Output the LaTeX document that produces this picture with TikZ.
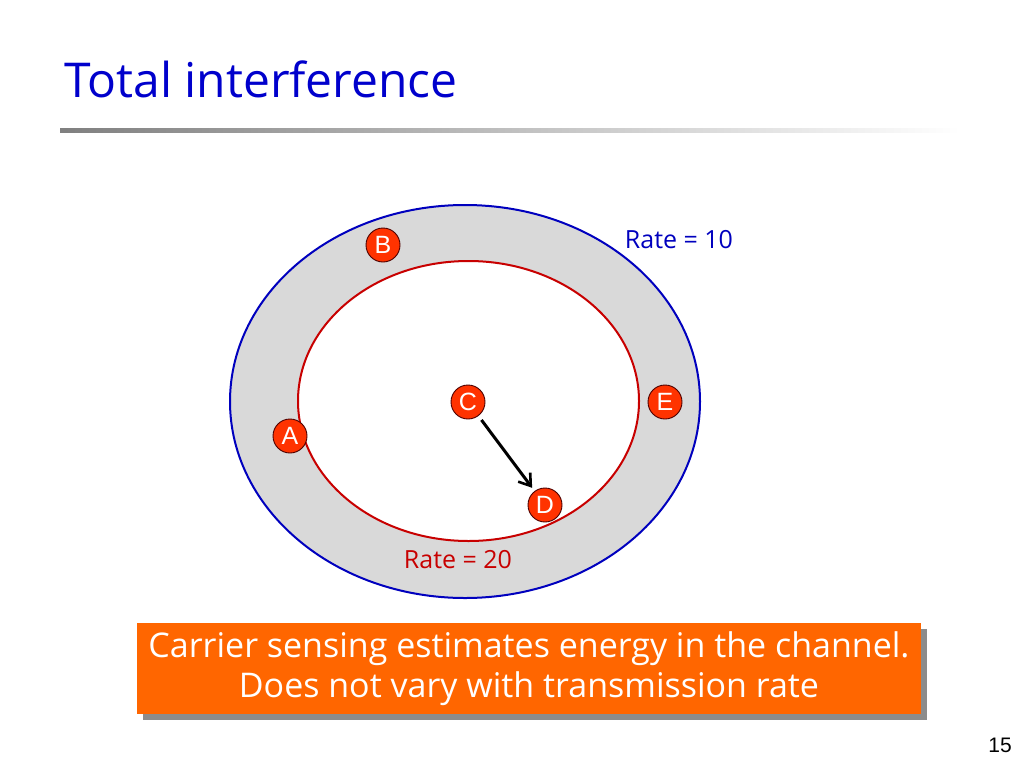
\documentclass[tikz,border=0pt]{standalone}
\usepackage{fontspec}
\setmainfont{Open Sans}
\newfontfamily\arialf{Liberation Sans}
\usetikzlibrary{arrows.meta,shadows}
\definecolor{titleblue}{RGB}{0,0,204}
\definecolor{ringgray}{RGB}{217,217,217}
\definecolor{outerblue}{RGB}{0,0,190}
\definecolor{innerred}{RGB}{200,0,0}
\definecolor{nodered}{RGB}{255,51,0}
\definecolor{boxorange}{RGB}{255,102,0}
\tikzset{
  station/.style={circle,draw=black!70!red,line width=0.9pt,fill=nodered,text=white,
    minimum size=34pt,inner sep=0pt,font=\arialf\fontsize{25}{25}\selectfont},
  ratelabel/.style={font=\fontsize{25}{27}\selectfont,anchor=center},
}
\begin{document}
\begin{tikzpicture}[x=1pt,y=-1pt]
\useasboundingbox (0,0) rectangle (1024,768);
% title
\node[anchor=base west,inner sep=0pt,text=titleblue,font=\fontsize{48}{52}\selectfont] (title) at (64,97) {Total interference};
\shade[left color=black!50,right color=white] (60,128) rectangle (960,132);
% rings
\filldraw[fill=ringgray,draw=outerblue,line width=2pt] (465,401.5) ellipse [x radius=235,y radius=196.5];
\filldraw[fill=white,draw=innerred,line width=2pt] (468.5,401) ellipse [x radius=170.5,y radius=140];
% labels
\node[ratelabel,text=outerblue] (r10) at (679,240) {Rate = 10};
\node[ratelabel,text=innerred] (r20) at (458,560) {Rate = 20};
% stations
\node[station] (B) at (383,245) {B};
\node[station] (A) at (290,436) {A};
\node[station] (C) at (468,402) {C};
\node[station] (E) at (665,402) {E};
\node[station] (D) at (545,505) {D};
\draw[line width=3pt,-{Straight Barb[length=11pt,width=15pt,line width=2.6pt]},shorten <=5pt,shorten >=4pt] (C) -- (D);
% box
\fill[black!45] (143,629) rectangle (927,720);
\node[fill=boxorange,text=white,minimum width=784pt,minimum height=91pt,inner sep=0pt,align=center,
  font=\fontsize{34}{40}\selectfont] (box) at (529,668.5) {Carrier sensing estimates energy in the channel.\\Does not vary with transmission rate};
% page number
\node[font=\arialf\fontsize{21}{21}\selectfont] (pg) at (1000,745) {15};
\end{tikzpicture}
\end{document}
